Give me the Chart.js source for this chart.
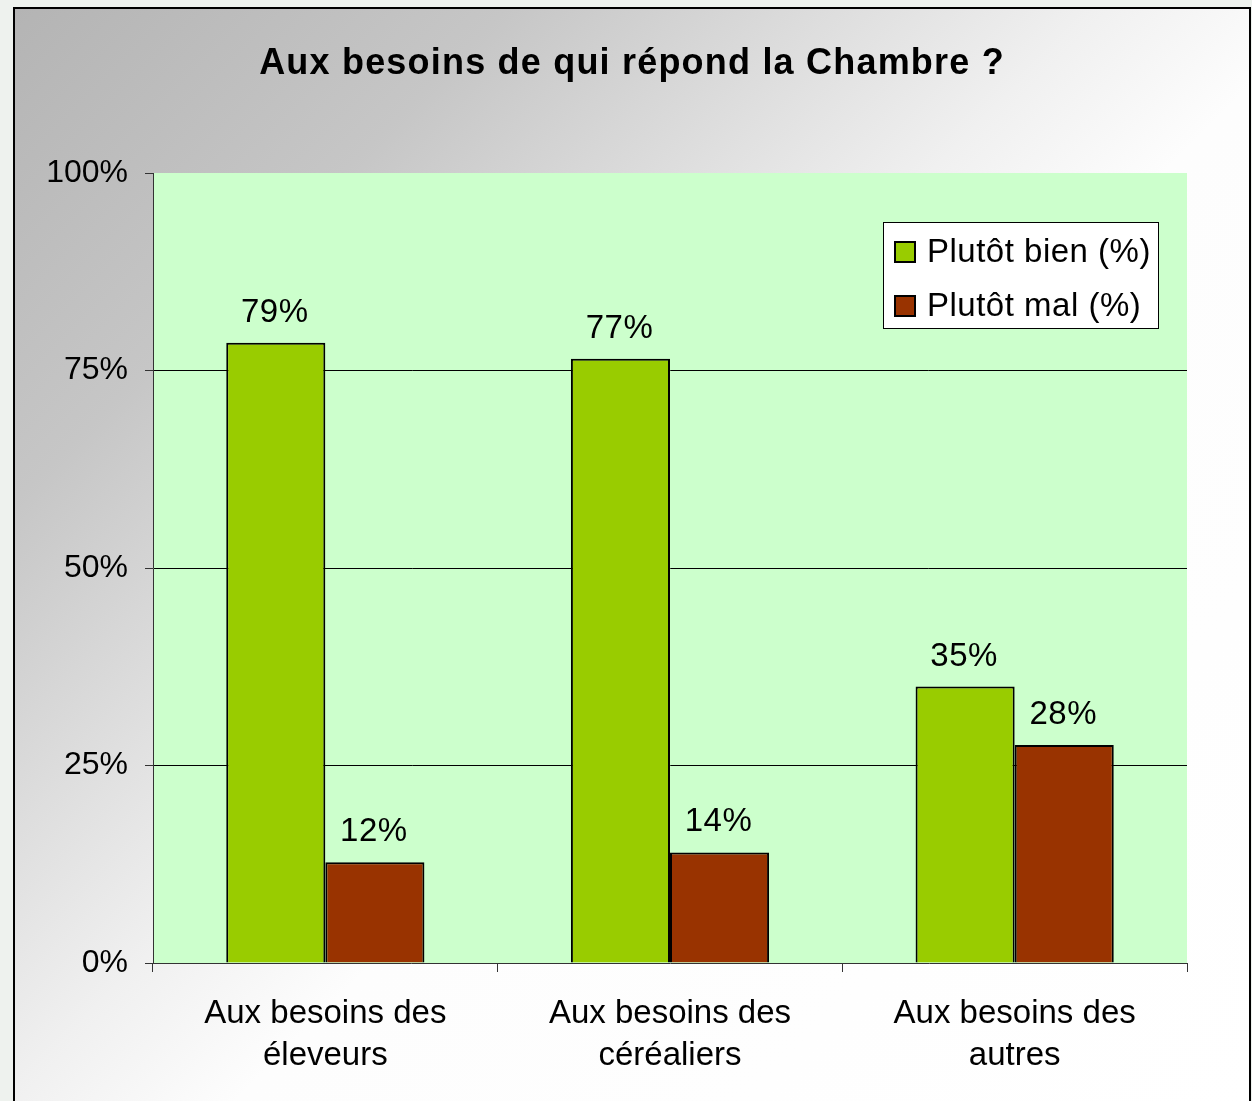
<!DOCTYPE html>
<html>
<head>
<meta charset="utf-8">
<script src="https://cdn.jsdelivr.net/npm/chart.js@4"></script>
<style>
    html, body { margin: 0; padding: 0; }
    body { width: 1252px; height: 1101px; background: #eef2ee; position: relative; overflow: hidden; }
    #frame {
        position: absolute; left: 13px; top: 7px; width: 1234px; height: 1110px;
        border: 2px solid #000;
        background: linear-gradient(135deg, #b4b4b4 0%, #c6c6c6 21%, #f0f0f0 46%, #fdfdfd 56%, #ffffff 100%);
    }
    #chart { position: absolute; left: 0; top: 0; }
</style>
</head>
<body>
<div id="frame"></div>
<canvas id="chart" width="1252" height="1101"></canvas>
<script>
// data
const categories = [
    ['Aux besoins des', 'éleveurs'],
    ['Aux besoins des', 'céréaliers'],
    ['Aux besoins des', 'autres']
];
const seriesNames = ['Plutôt bien (%)', 'Plutôt mal (%)'];
const plutotBien = [78.5, 76.5, 35.0];
const plutotMal = [12.75, 14.0, 27.6];
const bienLabels = ['79%', '77%', '35%'];
const malLabels = ['12%', '14%', '28%'];
const yTicks = [0, 25, 50, 75, 100];

const titleText = 'Aux besoins de qui répond la Chambre ?';
const FONT = '"Liberation Sans", Arial, sans-serif';

Chart.defaults.font.family = FONT;
Chart.defaults.color = '#000';

// light green plot background
const plotBg = {
    id: 'plotBg',
    beforeDraw(chart) {
        const { ctx, chartArea: a } = chart;
        ctx.save();
        ctx.fillStyle = '#CCFFCC';
        ctx.fillRect(a.left, a.top, a.right - a.left, a.bottom - a.top);
        ctx.restore();
    }
};

// title, value labels and the boxed legend
const extras = {
    id: 'extras',
    afterDraw(chart) {
        const ctx = chart.ctx;
        ctx.save();
        ctx.fillStyle = '#000';
        ctx.textAlign = 'center';
        ctx.textBaseline = 'middle';
        ctx.font = 'bold 36px ' + FONT;
        ctx.letterSpacing = '1.2px';
        ctx.fillText(titleText, 632, 64);

        ctx.font = '33px ' + FONT;
        ctx.letterSpacing = '0.5px';
        ctx.textBaseline = 'alphabetic';
        const texts = [bienLabels, malLabels];
        chart.data.datasets.forEach((ds, i) => {
            chart.getDatasetMeta(i).data.forEach((bar, j) => {
                ctx.fillText(texts[i][j], bar.x - 1, bar.y - 21);
            });
        });

        // legend
        ctx.fillStyle = '#fff';
        ctx.fillRect(883, 222, 275, 106);
        ctx.strokeStyle = '#000';
        ctx.lineWidth = 1;
        ctx.strokeRect(883.5, 222.5, 275, 106);
        ctx.textAlign = 'left';
        ctx.textBaseline = 'middle';
        ctx.font = '33px ' + FONT;
        chart.data.datasets.forEach((ds, i) => {
            const y = 252 + i * 54;
            ctx.fillStyle = ds.backgroundColor;
            ctx.fillRect(895, y - 10, 20, 20);
            ctx.lineWidth = 2;
            ctx.strokeRect(895, y - 10, 20, 20);
            ctx.fillStyle = '#000';
            ctx.fillText(ds.label, 927, y + 1);
        });
        ctx.restore();
    }
};

const ctx = document.getElementById('chart').getContext('2d');
new Chart(ctx, {
    type: 'bar',
    data: {
        labels: categories,
        datasets: [{
            label: seriesNames[0],
            data: plutotBien,
            backgroundColor: '#99CC00',
            borderColor: '#000',
            borderWidth: 2
        }, {
            label: seriesNames[1],
            data: plutotMal,
            backgroundColor: '#993300',
            borderColor: '#000',
            borderWidth: 2
        }]
    },
    options: {
        responsive: false,
        animation: false,
        layout: { padding: { left: 0, top: 173, right: 65, bottom: 0 } },
        datasets: {
            bar: { barPercentage: 1, categoryPercentage: 0.575 }
        },
        plugins: {
            legend: { display: false },
            title: { display: false },
            tooltip: { enabled: false }
        },
        scales: {
            x: {
                afterFit(scale) { scale.height = 138; },
                grid: {
                    offset: true,
                    drawOnChartArea: false,
                    drawTicks: true,
                    tickLength: 9,
                    tickColor: '#333'
                },
                border: { display: true, color: '#333', width: 1 },
                ticks: {
                    padding: 21,
                    color: '#000',
                    font: { size: 33, lineHeight: 1.27 },
                    maxRotation: 0
                }
            },
            y: {
                min: 0,
                max: 100,
                afterFit(scale) { scale.width = 153; },
                afterBuildTicks(scale) {
                    scale.ticks = yTicks.map(v => ({ value: v }));
                },
                grid: {
                    color: c => (c.tick && (c.tick.value === 0 || c.tick.value === 100)) ? 'rgba(0,0,0,0)' : '#000',
                    lineWidth: 1,
                    drawTicks: true,
                    tickLength: 8,
                    tickColor: '#333'
                },
                border: { display: true, color: '#333', width: 1 },
                ticks: {
                    padding: 17,
                    color: '#000',
                    font: { size: 32 },
                    callback: v => v + '%'
                }
            }
        }
    },
    plugins: [plotBg, extras]
});
</script>
</body>
</html>
